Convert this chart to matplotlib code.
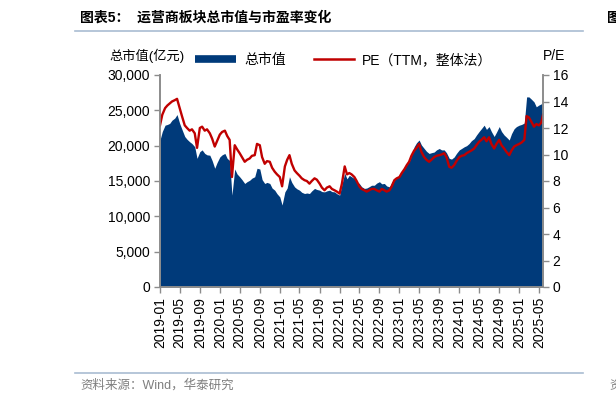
import pandas as pd
import matplotlib
matplotlib.use("Agg")
import matplotlib.pyplot as plt
import matplotlib.dates as mdates
from matplotlib.lines import Line2D
from matplotlib.ticker import FuncFormatter, MultipleLocator

plt.rcParams['font.family'] = ['Liberation Sans', 'Noto Sans CJK SC']

# semi-monthly dates (1st and 15th), plus last trading point shown
dates = list(pd.date_range('2019-01-01', '2025-05-15', freq='SMS')) + [pd.Timestamp('2025-05-26')]

# total market cap, 100m yuan
market_cap = [
    20800, 22000, 22900, 23000, 23150, 23600, 23900, 24400, 23150, 22300, 21300, 20900,
    20550, 20300, 19850, 18200, 19150, 19400, 18900, 18700, 18650, 17900, 16800, 17600,
    18400, 18700, 18900, 18200, 17900, 13000, 16700, 16000, 15600, 15200, 14650, 14900,
    15100, 15400, 15600, 16800, 16700, 15200, 14650, 14800, 14650, 14000, 13700, 13200,
    12750, 11600, 13460, 14000, 15600, 14800, 14170, 13900, 13700, 13400, 13230, 13300,
    13230, 13600, 13950, 13800, 13700, 13500, 13460, 13600, 13700, 13500, 13460, 13200,
    13000, 14500, 16100, 15300, 15800, 15600, 15350, 14900, 14650, 14200, 13950, 14000,
    14200, 14400, 14400, 14700, 14900, 14600, 14650, 14300, 14170, 14800, 15350, 15500,
    15600, 16200, 16800, 17300, 17700, 18600, 19850, 20400, 20800, 20100, 19600, 19200,
    18900, 19000, 19100, 19400, 19600, 19400, 19400, 19000, 18200, 18100, 18400, 18900,
    19400, 19600, 19850, 20000, 20300, 20700, 21000, 21500, 22000, 22400, 22900, 22300,
    22700, 22000, 21300, 21900, 22700, 22000, 21500, 21200, 20800, 21700, 22400, 22700,
    22900, 23000, 23200, 26900, 26900, 26600, 26200, 25500, 25750, 25900, 26500,
]

# PE (TTM, overall method)
pe_ttm = [
    12.2, 13.0, 13.5, 13.7, 13.85, 14.0, 14.1, 14.2, 13.5, 12.9, 12.2, 12.0,
    11.8, 11.9, 11.6, 10.5, 12.0, 12.1, 11.8, 11.9, 11.6, 11.2, 10.6, 11.0,
    11.5, 11.7, 11.8, 11.4, 11.1, 8.3, 10.7, 10.4, 10.1, 9.8, 9.45, 9.6,
    9.7, 9.9, 9.95, 10.8, 10.7, 9.8, 9.3, 9.5, 9.45, 9.0, 8.7, 8.5,
    8.3, 7.6, 9.1, 9.6, 9.95, 9.3, 8.8, 8.6, 8.4, 8.2, 8.06, 8.0,
    7.8, 8.0, 8.2, 8.1, 7.8, 7.5, 7.3, 7.5, 7.6, 7.4, 7.3, 7.2,
    7.05, 7.8, 9.1, 8.5, 8.6, 8.5, 8.3, 8.0, 7.6, 7.4, 7.3, 7.2,
    7.3, 7.4, 7.4, 7.3, 7.2, 7.4, 7.3, 7.2, 7.3, 7.6, 8.06, 8.2,
    8.3, 8.6, 8.9, 9.2, 9.45, 9.9, 10.3, 10.5, 10.8, 10.2, 9.8, 9.6,
    9.45, 9.6, 9.8, 9.9, 9.95, 10.0, 10.1, 9.8, 9.07, 9.0, 9.2, 9.5,
    9.8, 9.9, 9.95, 10.1, 10.2, 10.3, 10.45, 10.7, 10.96, 11.1, 11.3, 11.0,
    11.3, 10.8, 10.45, 10.8, 11.1, 10.7, 10.45, 10.2, 9.95, 10.3, 10.6, 10.7,
    10.8, 10.9, 11.1, 12.9, 12.8, 12.5, 12.1, 12.3, 12.2, 12.4, 13.0,
]

tick_dates = pd.date_range('2019-01-01', '2025-05-01', freq='4MS')

blue = '#003A7A'
red = '#C00000'
spine_grey = '#8C8C8C'

fig = plt.figure(figsize=(6.16, 4.03), dpi=100)
ax = fig.add_axes([160 / 616, 1 - 287 / 403, 383 / 616, 212 / 403])
ax2 = ax.twinx()

ax.fill_between(dates, market_cap, 0, color=blue, linewidth=0)
ax2.plot(dates, pe_ttm, color=red, linewidth=1.7)

ax.set_xlim(pd.Timestamp('2019-01-01'), pd.Timestamp('2025-05-26'))
ax.set_ylim(0, 30000)
ax2.set_ylim(0, 16)
ax.yaxis.set_major_locator(MultipleLocator(5000))
ax.yaxis.set_major_formatter(FuncFormatter(lambda v, p: f'{int(v):,}'))
ax2.yaxis.set_major_locator(MultipleLocator(2))

ax.set_xticks(tick_dates)
ax.xaxis.set_major_formatter(mdates.DateFormatter('%Y-%m'))
for lbl in ax.get_xticklabels():
    lbl.set_rotation(90)

for a in (ax, ax2):
    a.spines['top'].set_visible(False)
    for s in ('left', 'right', 'bottom'):
        a.spines[s].set_color(spine_grey)
        a.spines[s].set_linewidth(1.2)
    a.tick_params(direction='out', length=4, width=1, color=spine_grey,
                  labelsize=10, labelcolor='black', pad=3)

# legend and axis titles
handles = [Line2D([], [], color=blue, lw=5.5, solid_capstyle='butt'),
           Line2D([], [], color=red, lw=1.8)]
fig.legend(handles, ['总市值', 'PE（TTM，整体法）'], loc='center left',
           bbox_to_anchor=(183 / 616, 1 - 60 / 403), ncol=2, frameon=False,
           handlelength=2.9, handletextpad=0.6, columnspacing=2.0, fontsize=10)
fig.text(147 / 616, 1 - 56 / 403, '总市值(亿元)', ha='center', va='center', fontsize=9.5)
fig.text(554 / 616, 1 - 56 / 403, 'P/E', ha='center', va='center', fontsize=10)

# title and source
fig.text(80 / 616, 1 - 18 / 403, '图表5：  运营商板块总市值与市盈率变化', ha='left', va='center',
         fontsize=10, fontweight='bold')
fig.text(607 / 616, 1 - 18 / 403, '图', ha='left', va='center', fontsize=10, fontweight='bold')
fig.add_artist(Line2D([75 / 616, 583 / 616], [1 - 31 / 403, 1 - 31 / 403], color='#A9BCD2', lw=1.2))
fig.add_artist(Line2D([75 / 616, 583 / 616], [1 - 373 / 403, 1 - 373 / 403], color='#A9BCD2', lw=1.2))
fig.text(80 / 616, 1 - 385 / 403, '资料来源：Wind，华泰研究', ha='left', va='center',
         fontsize=9, color='#7F7F7F')
fig.text(609 / 616, 1 - 385 / 403, '资', ha='left', va='center', fontsize=9, color='#7F7F7F')

fig.savefig('out.png', dpi=100)
